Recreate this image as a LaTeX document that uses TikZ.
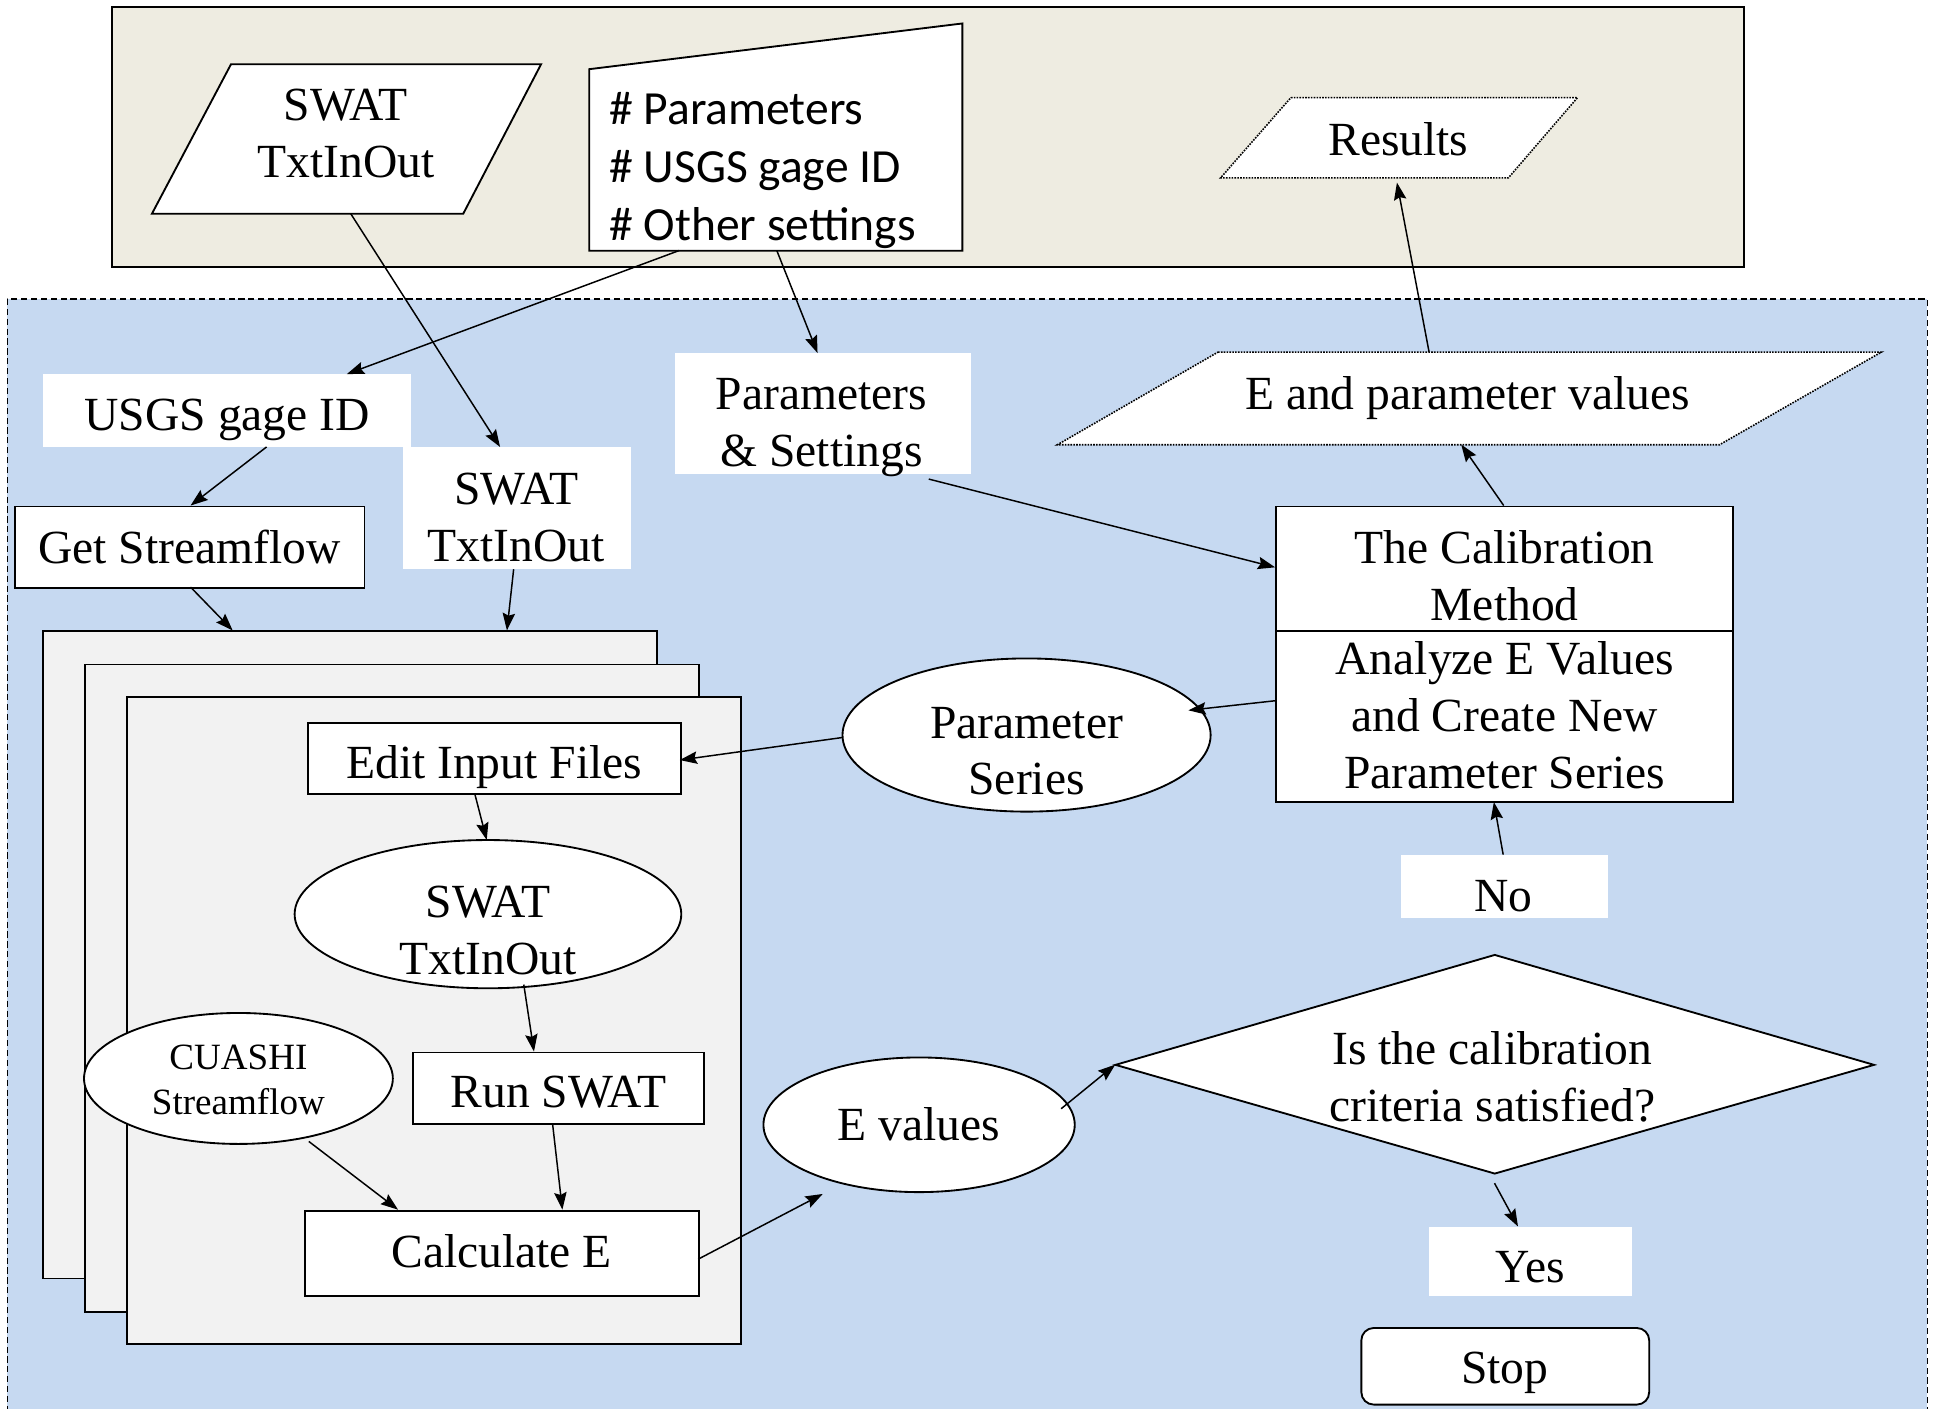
\documentclass[tikz,border=0pt]{standalone}
\usepackage{fontspec}
\setmainfont{Liberation Serif}
\newfontfamily\calfont{Carlito}
\usetikzlibrary{calc,arrows.meta,shapes.geometric}
\definecolor{beige}{HTML}{EEECE1}
\definecolor{bluebg}{HTML}{C6D9F1}
\definecolor{stackgray}{HTML}{F2F2F2}
\newcommand\mfont{\fontsize{38.5}{46}\selectfont}
\newcommand\sfont{\fontsize{30}{36}\selectfont}
\begin{document}
\begin{tikzpicture}[x=1pt,y=-1pt,
  box/.style={draw, line width=1.5pt, fill=white, rectangle, inner sep=0},
  wbox/.style={fill=white, rectangle, inner sep=0},
  ghost/.style={rectangle, inner sep=0},
  txt/.style={inner sep=0, align=center, font=\mfont},
  ell/.style={ellipse, draw, fill=white, line width=1.5pt, inner sep=0},
  stackbox/.style={draw, line width=1.3pt, fill=stackgray, rectangle, inner sep=0},
  arr/.style={-{Stealth[length=14pt,width=10pt,inset=2pt]}, line width=1.2pt},
  dotb/.style={draw, fill=white, line width=1.3pt, densely dotted}
]
\useasboundingbox (0,0) rectangle (1568,1140);

% background regions
\node[draw, fill=beige, line width=1.5pt, rectangle, inner sep=0,
      minimum width=1321pt, minimum height=210pt] (topregion) at (751.5,111) {};
\node[draw, fill=bluebg, line width=1pt, dash pattern=on 5pt off 3pt, rectangle, inner sep=0,
      minimum width=1554pt, minimum height=908pt] (blueregion) at (783,696) {};

% top input shapes
\draw[fill=white, line width=1.5pt] (187,52) -- (438,52) -- (375,173) -- (123,173) -- cycle;
\node[ghost, minimum width=315pt, minimum height=121pt] (swatin) at (280.5,112.5) {};
\node[txt] (swatin-t) at (280,108) {SWAT\\TxtInOut};

\draw[fill=white, line width=1.5pt] (477,56) -- (779,19) -- (779,203) -- (477,203) -- cycle;
\node[ghost, minimum width=302pt, minimum height=184pt] (setfile) at (628,111) {};
\node[inner sep=0, align=left, anchor=west, font={\calfont\fontsize{38.5}{47}\selectfont}] (setfile-t) at (493,138)
  {\# Parameters\\\# USGS gage ID\\\# Other settings};

\draw[dotb] (1045,79) -- (1277,79) -- (1221,144) -- (988,144) -- cycle;
\node[ghost, minimum width=289pt, minimum height=65pt] (results) at (1132.5,111.5) {};
\node[txt] (results-t) at (1132,113) {Results};

% blue region content
\node[wbox, minimum width=298pt, minimum height=59pt] (usgs) at (184,332.5) {};
\node[txt] (usgs-t) at (184,340) {USGS gage ID};
\node[wbox, minimum width=185pt, minimum height=99pt] (swatbox) at (418.5,411.5) {};
\node[txt] (swatbox-t) at (418,419) {SWAT\\TxtInOut};
\node[wbox, minimum width=240pt, minimum height=98pt] (params) at (666,335) {};
\node[txt] (params-t) at (665,346) {Parameters\\\& Settings};

\draw[dotb] (986,285) -- (1523,285) -- (1392,360) -- (856,360) -- cycle;
\node[ghost, minimum width=667pt, minimum height=75pt] (eparam) at (1189.5,322.5) {};
\node[txt] (eparam-t) at (1188,322) {E and parameter values};

\node[box, minimum width=283pt, minimum height=66pt, font=\mfont] (getsf) at (153.5,443) {Get Streamflow};

% stacked boxes
\node[stackbox, minimum width=497pt, minimum height=524pt] (stack1) at (283.5,773) {};
\node[stackbox, minimum width=497pt, minimum height=524pt] (stack2) at (317.5,800) {};
\node[stackbox, minimum width=497pt, minimum height=524pt] (stack3) at (351.5,826) {};

\node[box, minimum width=302pt, minimum height=58pt] (edit) at (400,614) {};
\node[txt] (edit-t) at (400,621) {Edit Input Files};
\node[ell, minimum width=313pt, minimum height=120pt] (swatell) at (395,740) {};
\node[txt] (swatell-t) at (395,753) {SWAT\\TxtInOut};
\node[ell, minimum width=250pt, minimum height=106pt] (cuashi) at (193,873) {};
\node[txt, font=\sfont] (cuashi-t) at (193,874) {CUASHI\\Streamflow};
\node[box, minimum width=236pt, minimum height=58pt] (runswat) at (452,881) {};
\node[txt] (runswat-t) at (452,884) {Run SWAT};
\node[box, minimum width=319pt, minimum height=69pt] (calce) at (406.5,1014.5) {};
\node[txt] (calce-t) at (406,1012.5) {Calculate E};

% right side
\node[ell, minimum width=298pt, minimum height=124pt] (paramser) at (831,595) {};
\node[txt] (paramser-t) at (831,608) {Parameter\\Series};
\node[box, minimum width=370pt, minimum height=101pt] (calibtop) at (1218,460.5) {};
\node[txt] (calibtop-t) at (1218,466) {The Calibration\\Method};
\node[box, minimum width=370pt, minimum height=138pt] (calibbot) at (1218,580) {};
\node[txt] (calibbot-t) at (1218,579) {Analyze E Values\\and Create New\\Parameter Series};
\node[wbox, minimum width=168pt, minimum height=51pt] (no) at (1218,717.5) {};
\node[txt] (no-t) at (1217,725.5) {No};

\draw[fill=white, line width=1.5pt] (903,862) -- (1210,773) -- (1517,862) -- (1210,950) -- cycle;
\node[ghost, minimum width=614pt, minimum height=177pt] (diamond) at (1210,861.5) {};
\node[txt] (diamond-t) at (1208,872) {Is the calibration\\criteria satisfied?};

\node[ell, minimum width=252pt, minimum height=109pt] (evals) at (744,910.5) {};
\node[txt] (evals-t) at (744,910) {E values};

\node[wbox, minimum width=164pt, minimum height=56pt] (yes) at (1239,1021) {};
\node[txt] (yes-t) at (1239,1026) {Yes};
\node[draw, fill=white, line width=1.5pt, rounded corners=10pt, rectangle, inner sep=0,
      minimum width=233pt, minimum height=62pt] (stop) at (1218.5,1106) {};
\node[txt] (stop-t) at (1218,1111) {Stop};

% connectors
\draw[arr] ($(swatin.north west)+(161,121)$) -- ($(swatbox.north west)+(79,0)$);
\draw[arr] ($(setfile.north west)+(73,184)$) -- ($(usgs.north west)+(246,0)$);
\draw[arr] ($(setfile.north west)+(152,184)$) -- ($(params.north west)+(116,0)$);
\draw[arr] ($(params.north west)+(206,102)$) -- ($(calibtop.north west)+(0,50)$);
\draw[arr] ($(calibtop.north west)+(185,0)$) -- ($(eparam.north west)+(327,75)$);
\draw[arr] ($(eparam.north west)+(301,0)$) -- ($(results.north west)+(143,69)$);
\draw[arr] ($(usgs.north west)+(181,59)$) -- ($(getsf.north west)+(143,0)$);
\draw[arr] ($(getsf.north west)+(143,66)$) -- ($(stack1.north west)+(154,0)$);
\draw[arr] ($(swatbox.north west)+(90,99)$) -- ($(stack1.north west)+(376,0)$);
\draw[arr] ($(calibbot.north west)+(0,57)$) -- ($(paramser.center)+(131,-20)$);
\draw[arr] ($(paramser.center)+(-149,2)$) -- ($(edit.north west)+(302,31)$);
\draw[arr] ($(edit.north west)+(136,58)$) -- ($(swatell.center)+(-1,-60)$);
\draw[arr] ($(swatell.center)+(29,57)$) -- ($(runswat.north west)+(99,0)$);
\draw[arr] ($(cuashi.center)+(57,51)$) -- ($(calce.north west)+(76,0)$);
\draw[arr] ($(runswat.north west)+(114,58)$) -- ($(calce.north west)+(209,0)$);
\draw[arr] ($(calce.north west)+(319,40)$) -- ($(evals.center)+(-78,56)$);
\draw[arr] ($(evals.center)+(115,-13)$) -- ($(diamond.north west)+(0,89)$);
\draw[arr] ($(diamond.north west)+(307,185)$) -- ($(yes.north west)+(72,0)$);
\draw[arr] ($(no.north west)+(83,0)$) -- ($(calibbot.north west)+(177,139)$);
\end{tikzpicture}
\end{document}
